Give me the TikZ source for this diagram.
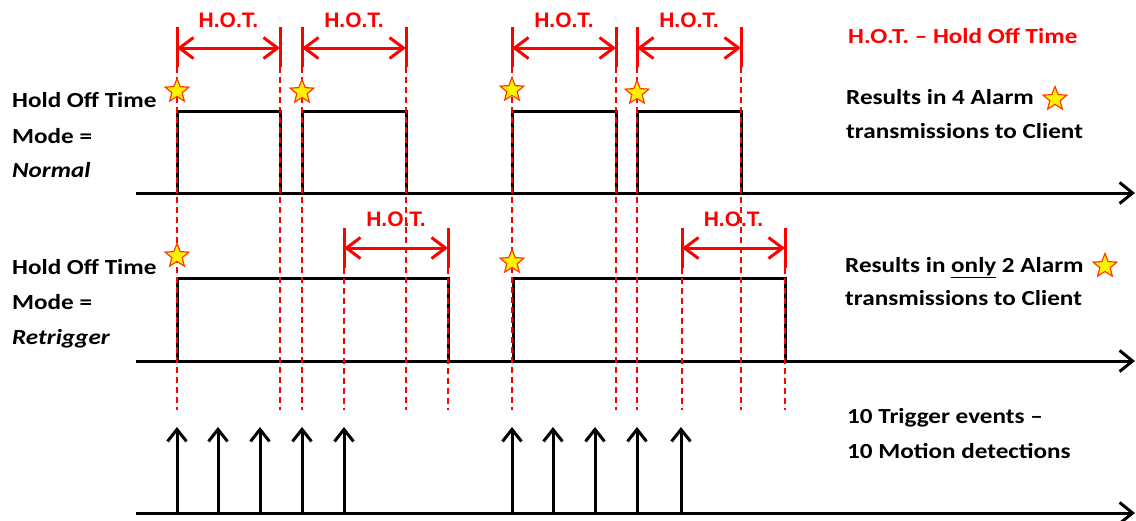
\documentclass[tikz,border=0pt]{standalone}
\usepackage{fontspec}
\setmainfont{Carlito}[FakeStretch=1.17]
\newfontfamily\hotfont{Liberation Sans}
\usetikzlibrary{arrows.meta,shapes.geometric}
\definecolor{starline}{RGB}{255,60,0}
\definecolor{hotred}{RGB}{255,0,0}
\tikzset{
  sig/.style={line width=3pt, black, line join=miter},
  axisline/.style={line width=3pt, black, -{Straight Barb[length=13pt,width=21pt,line width=3pt]}},
  trig/.style={line width=3pt, black, -{Straight Barb[length=12pt,width=19pt,line width=3pt]}},
  marker/.style={line width=3pt, hotred},
  hotarrow/.style={line width=3pt, hotred, {Straight Barb[length=14pt,width=21pt,line width=3pt]}-{Straight Barb[length=14pt,width=21pt,line width=3pt]}},
  reddash/.style={line width=1.5pt, hotred, dash pattern=on 6pt off 4pt},
  hotlabel/.style={font=\hotfont\fontsize{21}{24}\selectfont\bfseries, text=hotred, inner sep=0pt, anchor=base},
  txt/.style={font=\fontsize{21.5}{26}\selectfont\bfseries, inner sep=0pt, anchor=base west},
  alarmstar/.style={star, star points=5, star point ratio=2.3, minimum size=25pt, inner sep=0pt, fill=yellow, draw=starline, line width=1.2pt},
}
\begin{document}
\begin{tikzpicture}[x=1pt,y=-1pt]
\useasboundingbox (0,0) rectangle (1136,520);

% axes
\coordinate (ax1s) at (136,193); \coordinate (ax1e) at (1135,193);
\coordinate (ax2s) at (136,361); \coordinate (ax2e) at (1135,361);
\coordinate (ax3s) at (136,513); \coordinate (ax3e) at (1135,513);
\draw[axisline] (ax1s) -- (ax1e);
\draw[axisline] (ax2s) -- (ax2e);
\draw[axisline] (ax3s) -- (ax3e);

% row 1 pulses (Normal)
\foreach \a/\b in {177/280, 302/406, 512/616, 637/741}
  \draw[sig] (\a,193) -- (\a,111) -- (\b,111) -- (\b,193);
% row 2 pulses (Retrigger)
\foreach \a/\b in {177/448, 513/785}
  \draw[sig] (\a,361) -- (\a,278) -- (\b,278) -- (\b,361);

% row 1 H.O.T. markers
\foreach \a/\b in {177/280, 302/406, 512/616, 637/741}{
  \draw[marker] (\a,27) -- (\a,67);
  \draw[marker] (\b,27) -- (\b,67);
  \draw[hotarrow] (\a,48) -- (\b,48);
  \node[hotlabel] at ({(\a+\b)/2},27) {H.O.T.};
  \draw[reddash] (\a,67) -- (\a,410);
  \draw[reddash] (\b,67) -- (\b,410);
}
% row 2 H.O.T. markers
\foreach \a/\b in {344/448, 682/785}{
  \draw[marker] (\a,228) -- (\a,268);
  \draw[marker] (\b,228) -- (\b,268);
  \draw[hotarrow] (\a,248) -- (\b,248);
  \node[hotlabel] at ({(\a+\b)/2},226) {H.O.T.};
  \draw[reddash] (\a,268) -- (\a,410);
  \draw[reddash] (\b,268) -- (\b,410);
}

% trigger events
\foreach \x in {177,218,260,302,344,512,553,595,637,681}
  \draw[trig] (\x,513) -- (\x,427);

% alarm stars
\node[alarmstar] (s1) at (177,91) {};
\node[alarmstar] (s2) at (302,92) {};
\node[alarmstar] (s3) at (512,90) {};
\node[alarmstar] (s4) at (637,93) {};
\node[alarmstar] (s5) at (177,256) {};
\node[alarmstar] (s6) at (512,262) {};
\node[alarmstar] (s7) at (1055,99) {};
\node[alarmstar] (s8) at (1105,266) {};

% left labels
\node[txt] (l1) at (12,107) {Hold Off Time};
\node[txt] (l2) at (12,143) {Mode =};
\node[txt] (l3) at (12,177) {\itshape Normal};
\node[txt] (l4) at (12,274) {Hold Off Time};
\node[txt] (l5) at (12,309) {Mode =};
\node[txt] (l6) at (12,344) {\itshape Retrigger};

% right labels
\node[txt, text=hotred] (r0) at (848,43) {H.O.T. – Hold Off Time};
\node[txt] (r1) at (846,104) {Results in 4 Alarm};
\node[txt] (r2) at (846,138) {transmissions to Client};
\node[txt] (r3) at (845,272) {Results in \underline{only} 2 Alarm};
\node[txt] (r4) at (845,305) {transmissions to Client};
\node[txt] (r5) at (847,423) {10 Trigger events –};
\node[txt] (r6) at (847,458) {10 Motion detections};
\end{tikzpicture}
\end{document}
